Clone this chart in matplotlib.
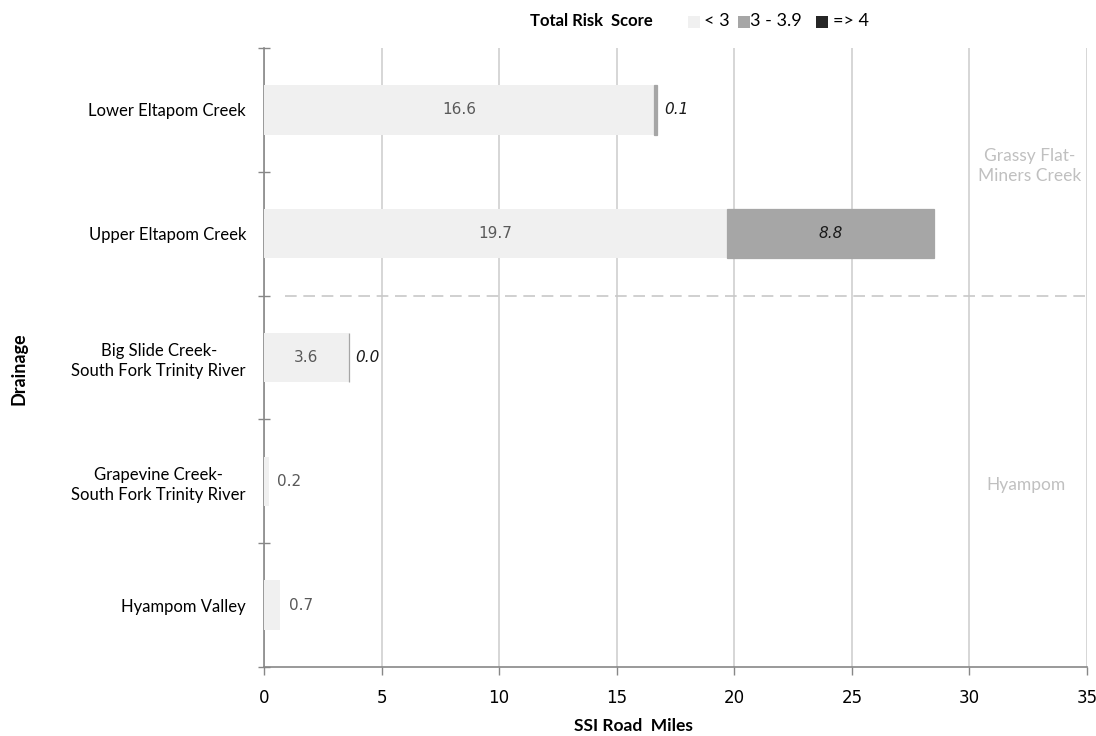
import matplotlib
matplotlib.use("Agg")
import matplotlib.pyplot as plt
from matplotlib.patches import Rectangle

categories = [
    "Lower Eltapom Creek",
    "Upper Eltapom Creek",
    "Big Slide Creek-\nSouth Fork Trinity River",
    "Grapevine Creek-\nSouth Fork Trinity River",
    "Hyampom Valley",
]
low_risk = [16.6, 19.7, 3.6, 0.2, 0.7]       # < 3
mid_risk = [0.1, 8.8, 0.0, None, None]       # 3 - 3.9
high_risk = [None, None, None, None, None]   # => 4
legend_labels = ["< 3", "3 - 3.9", "=> 4"]
groups = ["Grassy Flat-\nMiners Creek", "Hyampom"]
x_ticks = [0, 5, 10, 15, 20, 25, 30, 35]

c_low, c_mid, c_high = "#f0f0f0", "#a6a6a6", "#262626"
axis_gray = "#878787"
grid_gray = "#d0d0d0"
lab_font = ["Lato", "DejaVu Sans"]

fig = plt.figure(figsize=(10.96, 7.36), dpi=100)
ax = fig.add_axes([264 / 1096, 69 / 736, 823 / 1096, 619 / 736])

n = len(categories)
ypos = list(range(n))
h = 0.4

low_vals = [v or 0 for v in low_risk]
ax.barh(ypos, low_vals, height=h, color=c_low, zorder=3)
for i, m in enumerate(mid_risk):
    if m is not None:
        ax.barh(i, m, left=low_vals[i], height=h, color=c_mid,
                edgecolor=c_mid, linewidth=0.9, zorder=3)

for i in range(n):
    v = low_risk[i]
    if v is not None:
        if v >= 2:
            ax.text(v / 2, i, f"{v:.1f}", ha="center", va="center",
                    fontsize=11, color="#595959", family="DejaVu Sans", zorder=4)
        else:
            ax.text(v + 0.35, i, f"{v:.1f}", ha="left", va="center",
                    fontsize=11, color="#595959", family="DejaVu Sans", zorder=4)
    m = mid_risk[i]
    if m is not None:
        if m >= 2:
            ax.text(low_vals[i] + m / 2, i, f"{m:.1f}", ha="center", va="center",
                    fontsize=11, color="#1a1a1a", style="italic",
                    family="DejaVu Sans", zorder=4)
        else:
            ax.text(low_vals[i] + m + 0.3, i, f"{m:.1f}", ha="left", va="center",
                    fontsize=11, color="#1a1a1a", style="italic",
                    family="DejaVu Sans", zorder=4)

ax.set_xlim(0, 35)
ax.set_ylim(n - 0.5, -0.5)
ax.set_xticks(x_ticks)
ax.set_xticklabels([str(t) for t in x_ticks], fontsize=12, family="DejaVu Sans")
ax.set_yticks(ypos)
ax.set_yticklabels(categories, fontsize=12, family=lab_font, ha="right",
                   multialignment="center", linespacing=1.3)
ax.tick_params(axis="y", which="major", length=0, pad=13)
ax.set_yticks([k - 0.5 for k in range(n + 1)], minor=True)
ax.tick_params(axis="y", which="minor", length=8, direction="inout",
               color=axis_gray, width=1)
ax.tick_params(axis="x", which="major", length=6, direction="out",
               color=axis_gray, width=1, pad=10)

ax.grid(axis="x", color=grid_gray, linewidth=1.2, zorder=0)
ax.set_axisbelow(True)
for s in ["top", "right"]:
    ax.spines[s].set_visible(False)
for s in ["left", "bottom"]:
    ax.spines[s].set_color(axis_gray)
    ax.spines[s].set_linewidth(1.2)

# separator between drainage groups
ax.plot([0.9, 35], [1.5, 1.5], color="#c8c8c8", linestyle=(0, (7, 4)),
        linewidth=1.2, zorder=2)
ax.text(32.58, 0.45, groups[0], ha="center", va="center", fontsize=12.5,
        color="#c0c0c0", family=lab_font, linespacing=1.3)
ax.text(32.4, 3.03, groups[1], ha="center", va="center", fontsize=12.5,
        color="#c0c0c0", family=lab_font)

fig.text(633 / 1096, 1 - 726 / 736, "SSI Road  Miles", ha="center", va="center",
         fontsize=12.5, fontweight="bold", family=lab_font)
fig.text(19 / 1096, 1 - 369 / 736, "Drainage", rotation=90, ha="center",
         va="center", fontsize=13, fontweight="bold", family=lab_font)

# legend row
fig.text(591 / 1096, 1 - 21 / 736, "Total Risk  Score", ha="center", va="center",
         fontsize=12, fontweight="bold", family=lab_font)
sq = 11.5
for x0, tx, col, lab in [(688, 704, c_low, legend_labels[0]),
                         (738, 750, c_mid, legend_labels[1]),
                         (816, 833, c_high, legend_labels[2])]:
    fig.patches.append(Rectangle((x0 / 1096, 1 - 27.5 / 736), sq / 1096, sq / 736,
                                 transform=fig.transFigure, facecolor=col,
                                 edgecolor="none"))
    fig.text(tx / 1096, 1 - 21 / 736, lab, ha="left", va="center",
             fontsize=13, family=lab_font)

fig.savefig("out.png", dpi=100, facecolor="white")
